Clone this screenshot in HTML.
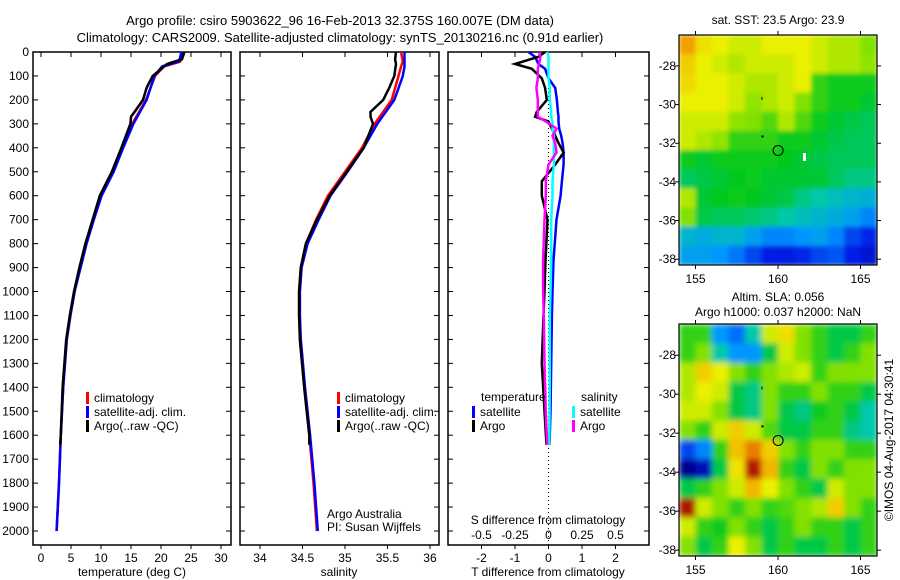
<!DOCTYPE html>
<html><head><meta charset="utf-8"><style>
body{margin:0;background:#fff}
svg{display:block;font-family:"Liberation Sans",sans-serif;font-size:12px}
</style></head><body>
<svg id="fig" width="900" height="580" viewBox="0 0 900 580" xmlns="http://www.w3.org/2000/svg">
<defs>
<filter id="soft" x="0" y="0" width="1" height="1"><feGaussianBlur stdDeviation="3" edgeMode="duplicate"/></filter>
<filter id="soft2" x="0" y="0" width="1" height="1"><feGaussianBlur stdDeviation="2" edgeMode="duplicate"/></filter>
<clipPath id="clip1"><rect x="679" y="35" width="198" height="230"/></clipPath>
<clipPath id="clip2"><rect x="679" y="324" width="198" height="232"/></clipPath>
</defs>
<rect width="900" height="580" fill="#fff"/>
<text x="340" y="25" text-anchor="middle" font-size="13">Argo profile: csiro 5903622_96 16-Feb-2013 32.375S 160.007E (DM data)</text>
<text x="340" y="42" text-anchor="middle" font-size="13">Climatology: CARS2009. Satellite-adjusted climatology: synTS_20130216.nc (0.91d earlier)</text>
<g id="plots"></g>
</svg>
<script>
// ---- data ----
const depthClim=[0,40,60,100,200,300,400,500,600,700,800,900,1000,1100,1200,1400,1600,1800,2000];
const tempClim=[23.6,23.2,20.5,19.0,17.5,15.2,13.5,12.0,10.0,8.7,7.5,6.5,5.6,4.9,4.3,3.7,3.3,3.0,2.6];
const tempSat=[23.4,23.0,20.2,18.9,17.6,15.4,13.7,12.1,10.1,8.8,7.6,6.6,5.6,4.9,4.3,3.7,3.3,3.0,2.6];
const depthArgo=[0,30,50,100,150,200,250,270,300,400,500,600,700,800,900,1000,1100,1200,1400,1600,1640];
const tempArgo=[23.9,23.5,21.0,18.6,17.6,17.0,15.6,15.0,14.9,13.4,11.8,9.8,8.6,7.4,6.4,5.5,4.8,4.2,3.6,3.3,3.2];
const salClim=[35.66,35.68,35.66,35.63,35.55,35.35,35.2,35.0,34.8,34.66,34.54,34.48,34.46,34.46,34.47,34.52,34.58,34.63,34.67];
const salSat=[35.70,35.70,35.70,35.68,35.58,35.38,35.22,35.03,34.83,34.69,34.56,34.49,34.47,34.47,34.48,34.53,34.59,34.64,34.68];
const salArgo=[35.60,35.59,35.60,35.58,35.52,35.45,35.30,35.30,35.33,35.22,35.02,34.82,34.67,34.54,34.48,34.46,34.46,34.47,34.52,34.58,34.58];
const depthDiff=[0,20,50,70,110,150,200,250,270,290,320,350,380,420,470,540,600,700,870,1000,1100,1300,1500,1640];
const tDiffSat=[-0.6,-0.4,-0.3,-0.1,0.0,0.2,0.25,0.28,0.3,0.3,0.32,0.38,0.42,0.45,0.45,0.4,0.36,0.24,0.15,0.12,0.1,0.08,0.06,0.03];
const tDiffArgo=[-0.1,-0.3,-1.0,-0.5,-0.2,-0.1,-0.05,-0.35,-0.4,0.0,0.1,0.2,0.3,0.45,0.2,-0.2,-0.2,-0.03,-0.09,-0.12,-0.15,-0.2,-0.12,-0.06];
const sDiffSat=[-0.01,0.0,0.0,0.0,0.0,0.01,0.01,0.02,0.02,0.03,0.03,0.04,0.04,0.04,0.04,0.03,0.03,0.02,0.02,0.015,0.01,0.01,0.008,0.005];
const sDiffArgo=[-0.07,-0.06,-0.07,-0.08,-0.08,-0.09,-0.08,-0.08,-0.08,-0.02,0.06,0.03,0.05,0.06,0.0,-0.02,-0.02,-0.03,-0.04,-0.04,-0.035,-0.03,-0.02,-0.01];
const depthTicks=[0,100,200,300,400,500,600,700,800,900,1000,1100,1200,1300,1400,1500,1600,1700,1800,1900,2000];
const tempTicks=[0,5,10,15,20,25,30];
const salTicks=[34,34.5,35,35.5,36];
const salTickLabels=['34','34.5','35','35.5','36'];
const tDiffTicks=[-2,-1,0,1,2];
const sDiffTicks=[-0.5,-0.25,0,0.25,0.5];
const sDiffLabels=['-0.5','-0.25','0','0.25','0.5'];
const lonTicks=[155,160,165];
const latTicks=[-28,-30,-32,-34,-36,-38];
const sstGrid=[
[.75,.65,.62,.6,.6,.62,.62,.62,.6,.58,.58,.55],
[.68,.62,.6,.58,.6,.6,.6,.62,.6,.58,.58,.56],
[.66,.62,.62,.6,.58,.58,.6,.62,.5,.48,.48,.48],
[.62,.62,.62,.6,.56,.58,.6,.55,.5,.48,.48,.46],
[.6,.6,.6,.56,.55,.52,.58,.52,.48,.46,.45,.44],
[.6,.58,.56,.5,.5,.5,.48,.48,.46,.45,.44,.44],
[.48,.46,.48,.48,.48,.48,.47,.46,.45,.44,.44,.44],
[.44,.45,.46,.47,.48,.46,.46,.46,.46,.44,.42,.42],
[.58,.46,.47,.48,.47,.46,.45,.42,.4,.38,.36,.35],
[.55,.45,.44,.44,.43,.42,.4,.38,.36,.34,.32,.28],
[.36,.34,.36,.36,.32,.28,.28,.3,.32,.28,.2,.16],
[.32,.32,.3,.26,.2,.15,.14,.16,.2,.22,.15,.12]];
const slaGrid=[
[.5,.5,.3,.25,.4,.6,.65,.55,.5,.45,.45,.5],
[.5,.55,.4,.3,.3,.45,.6,.55,.5,.45,.5,.55],
[.58,.68,.62,.55,.5,.55,.58,.6,.5,.55,.55,.55],
[.58,.62,.6,.45,.42,.55,.5,.5,.55,.5,.5,.45],
[.6,.6,.55,.45,.42,.55,.45,.42,.48,.5,.45,.4],
[.55,.5,.6,.68,.6,.52,.45,.45,.5,.5,.42,.4],
[.2,.28,.5,.7,.78,.68,.55,.5,.55,.55,.5,.5],
[.02,.08,.45,.64,.9,.72,.5,.45,.55,.5,.55,.55],
[.45,.5,.55,.6,.72,.62,.55,.5,.45,.6,.55,.55],
[.92,.6,.55,.5,.55,.5,.52,.55,.58,.68,.55,.5],
[.6,.5,.48,.55,.5,.45,.5,.55,.5,.5,.45,.5],
[.55,.45,.5,.62,.55,.45,.5,.45,.45,.5,.45,.5]];
const argoLon=160.007, argoLat=-32.375;

// ---- drawing ----
const NS='http://www.w3.org/2000/svg';
const root=document.getElementById('plots');
function mk(tag,attrs,parent){const e=document.createElementNS(NS,tag);for(const k in attrs)e.setAttribute(k,attrs[k]);(parent||root).appendChild(e);return e;}
const TOP=52,BOT=545;
const sy=d=>TOP+d*(531-TOP)/2000;
function axis(x0,x1,xmin,xmax){return v=>x0+(v-xmin)/(xmax-xmin)*(x1-x0);}
function line(xs,ds,f,col,name,w){
  const pts=xs.map((v,i)=>f(v).toFixed(1)+','+sy(ds[i]).toFixed(1)).join(' ');
  const p=mk('polyline',{points:pts,fill:'none',stroke:col,'stroke-width':w||2.5});
  
  
}
function frame(x0,x1,name){
  const r=mk('rect',{x:x0,y:TOP,width:x1-x0,height:BOT-TOP,fill:'none',stroke:'#000','stroke-width':1.5});
  
  
}
function txt(x,y,s,name,anchor,extra){
  const t=mk('text',Object.assign({x:x,y:y,'text-anchor':anchor||'start'},extra||{}));t.textContent=s;
  
  
  return t;
}
function xticks(f,ticks,labels,name,yl){
  ticks.forEach((v,i)=>{const x=f(v);
    mk('line',{x1:x,x2:x,y1:BOT,y2:BOT+4,stroke:'#000'});mk('line',{x1:x,x2:x,y1:TOP,y2:TOP+5,stroke:'#000'});
    txt(x,yl||BOT+17,labels?labels[i]:String(v),name,'middle');});
}
function yticks(x0,x1,labels){
  depthTicks.forEach(d=>{const y=sy(d);
    mk('line',{x1:x0,x2:x0+5,y1:y,y2:y,stroke:'#000'});mk('line',{x1:x1-5,x2:x1,y1:y,y2:y,stroke:'#000'});
    if(labels)txt(x0-4,y+4,String(d),'depth-tick-label','end');});
}
function legendEntry(x,y,col,s,name){
  mk('rect',{x:x,y:y-9,width:3,height:12,fill:col});
  txt(x+8,y+1,s,name);
}
// panel 1 temperature
const fT=axis(33,231,-1.333,31.667);
frame(33,231,'temperature-panel');yticks(33,231,true);xticks(fT,tempTicks,null,'temperature-tick-label');
line(tempClim,depthClim,fT,'#f00','temp-climatology-line');
line(tempSat,depthClim,fT,'#00f','temp-satellite-line');
line(tempArgo,depthArgo,fT,'#000','temp-argo-line');
txt(132,576,'temperature (deg C)','temperature-axis-title','middle');
legendEntry(86,401,'#f00','climatology','legend-climatology');
legendEntry(86,415,'#00f','satellite-adj. clim.','legend-satellite');
legendEntry(86,429,'#000','Argo(..raw -QC)','legend-argo');
// panel 2 salinity
const fS=axis(240,439,33.765,36.106);
frame(240,439,'salinity-panel');yticks(240,439,false);xticks(fS,salTicks,salTickLabels,'salinity-tick-label');
line(salClim,depthClim,fS,'#f00','sal-climatology-line');
line(salSat,depthClim,fS,'#00f','sal-satellite-line');
line(salArgo,depthArgo,fS,'#000','sal-argo-line');
txt(339,576,'salinity','salinity-axis-title','middle');
legendEntry(337,401,'#f00','climatology','legend-climatology-2');
legendEntry(337,415,'#00f','satellite-adj. clim.','legend-satellite-2');
legendEntry(337,429,'#000','Argo(..raw -QC)','legend-argo-2');
txt(327,518,'Argo Australia','credit-argo-australia');
txt(327,531,'PI: Susan Wijffels','credit-pi');
// panel 3 differences
const fD=axis(448,649,-3,3);
const fSD=v=>fD(v*4);
frame(448,649,'difference-panel');yticks(448,649,false);xticks(fD,tDiffTicks,null,'tdiff-tick-label');
for(let y=TOP;y<BOT;y+=4)mk('rect',{x:fD(0)-0.5,y:y,width:1,height:1,fill:'#000'});
line(tDiffSat,depthDiff,fD,'#00f','tdiff-satellite-line');
line(tDiffArgo,depthDiff,fD,'#000','tdiff-argo-line');
line(sDiffSat,depthDiff,fSD,'#0ff','sdiff-satellite-line');
line(sDiffArgo,depthDiff,fSD,'#f0f','sdiff-argo-line');
sDiffTicks.forEach((v,i)=>txt(fSD(v),539,sDiffLabels[i],'sdiff-tick-label','middle'));
txt(548,524,'S difference from climatology','sdiff-axis-title','middle');
txt(548,576,'T difference from climatology','tdiff-axis-title','middle');
txt(481,401,'temperature','legend-temperature-heading');
txt(581,401,'salinity','legend-salinity-heading');
legendEntry(472,415,'#00f','satellite','legend-t-satellite');
legendEntry(472,429,'#000','Argo','legend-t-argo');
legendEntry(572,415,'#0ff','satellite','legend-s-satellite');
legendEntry(572,429,'#f0f','Argo','legend-s-argo');
// maps
const cmapStops=[[0,[0,0,130]],[0.15,[0,30,230]],[0.3,[0,150,255]],[0.4,[0,200,170]],[0.47,[0,200,30]],[0.55,[130,225,0]],[0.62,[235,240,0]],[0.74,[245,170,0]],[0.87,[200,30,0]],[1,[120,0,0]]];
function cmap(t){
  for(let i=1;i<cmapStops.length;i++){const a=cmapStops[i-1],b=cmapStops[i];
    if(t<=b[0]){const f=(t-a[0])/(b[0]-a[0]);
      return 'rgb('+a[1].map((v,k)=>Math.round(v+(b[1][k]-v)*f)).join(',')+')';}}
  return 'rgb(120,0,0)';
}
function map(y0,y1,grid,name,latTop,latBot,clip,filt){
  const x0=679,x1=877;
  const fx=axis(x0,x1,154,166), fy=v=>y0+(latTop-v)/(latTop-latBot)*(y1-y0);
  const outer=mk('g',{'clip-path':'url(#'+clip+')'});
  const g=mk('g',{filter:'url(#'+filt+')'},outer);
  const nr=grid.length,nc=grid[0].length,cw=(x1-x0)/nc,ch=(y1-y0)/nr;
  grid.forEach((row,i)=>row.forEach((v,j)=>{
    const r=mk('rect',{x:x0+j*cw,y:y0+i*ch,width:cw+0.6,height:ch+0.6,fill:cmap(v)},g);
    
    
  }));
  const fr=mk('rect',{x:x0,y:y0,width:x1-x0,height:y1-y0,fill:'none',stroke:'#000','stroke-width':1.2});
  
  lonTicks.forEach(v=>{const x=fx(v);mk('line',{x1:x,x2:x,y1:y1,y2:y1+4,stroke:'#000'});mk('line',{x1:x,x2:x,y1:y0-4,y2:y0,stroke:'#000'});
    txt(x,y1+18,String(v),'lon-tick-label','middle',{'font-size':'12'});});
  latTicks.forEach(v=>{const y=fy(v);mk('line',{x1:x0-4,x2:x0,y1:y,y2:y,stroke:'#000'});mk('line',{x1:x1,x2:x1+4,y1:y,y2:y,stroke:'#000'});
    txt(x0-3,y+4,String(v),'lat-tick-label','end');});
  const c=mk('circle',{cx:fx(argoLon),cy:fy(argoLat),r:5,fill:'none',stroke:'#000'});
  
  mk('rect',{x:fx(159),y:fy(-29.6),width:1,height:3,fill:'#000'});
  mk('rect',{x:fx(159),y:fy(-31.6),width:2,height:2,fill:'#000'});
}
map(35,265,sstGrid,'sst-map',-26.4,-38.3,'clip1','soft2');
map(324,556,slaGrid,'sla-map',-26.4,-38.3,'clip2','soft');
mk('rect',{x:803,y:153,width:3,height:8,fill:'#fff'});
txt(778,24,'sat. SST: 23.5 Argo: 23.9','sst-map-title','middle');
txt(778,301,'Altim. SLA: 0.056','sla-map-title','middle');
txt(778,316,'Argo h1000: 0.037 h2000: NaN','sla-map-subtitle','middle');
txt(0,0,'©IMOS 04-Aug-2017 04:30:41','timestamp','middle',{transform:'translate(893,440) rotate(-90)'});
</script>
</body></html>
